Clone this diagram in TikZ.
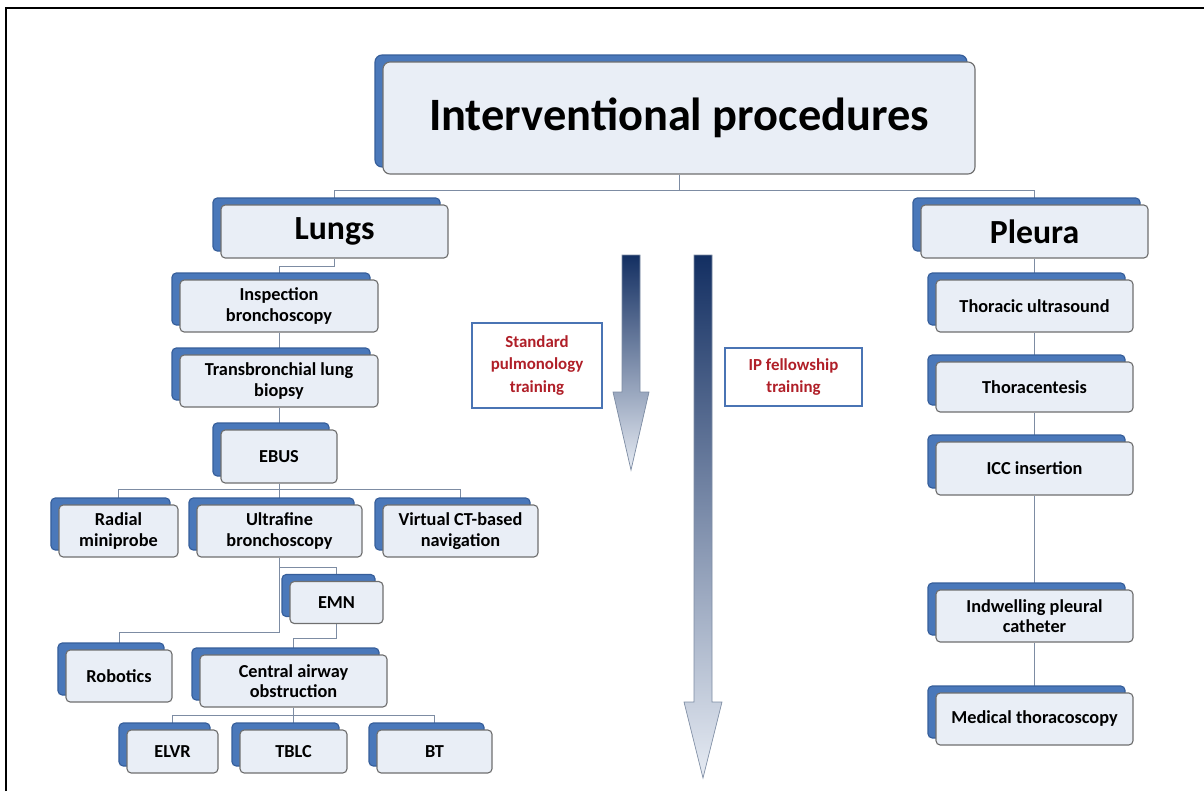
\documentclass[tikz,border=0pt]{standalone}
\usepackage{fontspec}
\setmainfont{Carlito}
\usetikzlibrary{shadows,backgrounds}
\definecolor{shadowblue}{HTML}{4A78BA}
\definecolor{shadowedge}{HTML}{365E9A}
\definecolor{boxfill}{HTML}{E9EEF6}
\definecolor{boxedge}{HTML}{6F6F6F}
\definecolor{linkgray}{HTML}{7D8CA3}
\definecolor{navy}{HTML}{132F62}
\definecolor{midblue}{HTML}{5C78AE}
\definecolor{paleblue}{HTML}{E6EBF3}
\definecolor{labelred}{HTML}{B01F28}
\definecolor{labelblue}{HTML}{4A74B4}
\tikzset{
  bw/.style={minimum width=#1*0.025cm},
  bh/.style={minimum height=#1*0.025cm},
  card/.style={draw=boxedge, line width=0.8pt, rounded corners=3pt, fill=boxfill,
    align=center, inner sep=2pt, font=\bfseries\fontsize{13}{14.5}\selectfont,
    general shadow={fill=shadowblue, draw=shadowedge, shadow xshift=-0.2cm, shadow yshift=0.175cm}},
  bigcard/.style={card, font=\bfseries\fontsize{24}{28}\selectfont},
  link/.style={draw=linkgray, line width=0.7pt},
  redlabel/.style={draw=labelblue, line width=1.8pt, fill=white, text=labelred,
    align=center, inner sep=2pt, font=\bfseries\fontsize{12}{16}\selectfont},
  bigarrow/.style={draw=linkgray, line width=0.5pt, top color=navy, middle color=midblue, bottom color=paleblue}
}
\begin{document}
\begin{tikzpicture}[x=0.025cm, y=-0.025cm]
\useasboundingbox (0,0) rectangle (1204,791);
\draw[line width=1.6pt] (6,791) -- (6,8) -- (1204,8);

\node[card, rounded corners=5pt, font=\bfseries\fontsize{33}{38}\selectfont, bw=592, bh=112] (top) at (679,118) {Interventional procedures};
\node[bigcard, bw=227, bh=53] (lungs) at (334.5,231.5) {Lungs};
\node[bigcard, bw=227, bh=53] (pleura) at (1034.5,231.5) {Pleura};

\node[card, bw=198, bh=52] (insp) at (279,306) {Inspection\\bronchoscopy};
\node[card, bw=198, bh=52] (tbb) at (279,381) {Transbronchial lung\\biopsy};
\node[card, bw=116, bh=53] (ebus) at (279,456.5) {EBUS};
\node[card, bw=119, bh=52] (radial) at (118.5,531) {Radial\\miniprobe};
\node[card, bw=165, bh=52] (ultra) at (279.5,531) {Ultrafine\\bronchoscopy};
\node[card, bw=155, bh=52] (vct) at (460.5,531) {Virtual CT-based\\navigation};
\node[card, bw=93, bh=42] (emn) at (336.5,602.5) {EMN};
\node[card, bw=106, bh=52] (robot) at (119,676) {Robotics};
\node[card, bw=187, bh=52] (cao) at (293.5,681) {Central airway\\obstruction};
\node[card, bw=91, bh=43] (elvr) at (172.5,751.5) {ELVR};
\node[card, bw=107, bh=43] (tblc) at (293.5,751.5) {TBLC};
\node[card, bw=115, bh=43] (bt) at (434.5,751.5) {BT};

\node[card, bw=197, bh=52] (tus) at (1034.5,306) {Thoracic ultrasound};
\node[card, bw=197, bh=50] (thora) at (1034.5,387) {Thoracentesis};
\node[card, bw=197, bh=53] (icc) at (1034.5,468.5) {ICC insertion};
\node[card, bw=197, bh=52] (ipc) at (1034.5,616) {Indwelling pleural\\catheter};
\node[card, bw=197, bh=52] (mt) at (1034.5,719) {Medical thoracoscopy};

\draw[bigarrow] (622,255) -- (640,255) -- (640,392) -- (649,392) -- (631,470) -- (613,392) -- (622,392) -- cycle;
\draw[bigarrow] (694,255) -- (712,255) -- (712,702) -- (722,702) -- (703,778) -- (684,702) -- (694,702) -- cycle;
\node[redlabel, bw=130, bh=85] (std) at (537,365.5) {Standard\\pulmonology\\training};
\node[redlabel, bw=137, bh=58] (ipf) at (793.5,377) {IP fellowship\\training};

\begin{scope}[on background layer]
\draw[link] (top.south) -- ++(0,16) -| (lungs.north);
\draw[link] (top.south) -- ++(0,16) -| (pleura.north);
\draw[link] (lungs.south) -- ++(0,8) -| (insp.north);
\draw[link] (insp.south) -- (tbb.north);
\draw[link] (tbb.south) -- (ebus.north);
\draw[link] (ebus.south) -- ++(0,6) -| (radial.north);
\draw[link] (ebus.south) -- ++(0,6) -| (ultra.north);
\draw[link] (ebus.south) -- ++(0,6) -| (vct.north);
\draw[link] (ultra.south) -- ++(0,10) -| (emn.north);
\draw[link] (ultra.south) -- ++(0,75) -| (robot.north);
\draw[link] (emn.south) -- ++(0,14) -| (cao.north);
\draw[link] (cao.south) -- ++(0,8) -| (elvr.north);
\draw[link] (cao.south) -- ++(0,8) -| (tblc.north);
\draw[link] (cao.south) -- ++(0,8) -| (bt.north);
\draw[link] (pleura.south) -- (tus.north);
\draw[link] (tus.south) -- (thora.north);
\draw[link] (thora.south) -- (icc.north);
\draw[link] (icc.south) -- (ipc.north);
\draw[link] (ipc.south) -- (mt.north);
\end{scope}
\end{tikzpicture}
\end{document}
